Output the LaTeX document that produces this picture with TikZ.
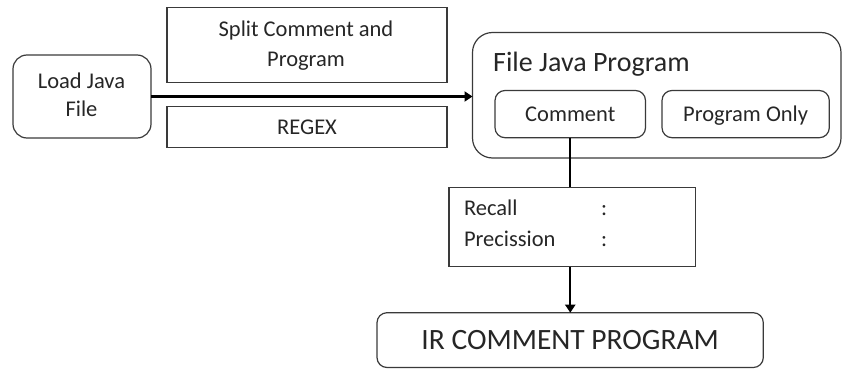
\documentclass[tikz,border=0pt]{standalone}
\usepackage{fontspec}
\setmainfont{Carlito}
\usetikzlibrary{arrows.meta}
\definecolor{bordergray}{HTML}{3A3A3A}
\definecolor{textgray}{HTML}{262626}
\tikzset{
  boxbase/.style={draw=bordergray, line width=1.2pt, inner sep=0pt, outer sep=0pt, align=center, text=textgray, font=\fontsize{22.5}{28}\selectfont},
  sqbox/.style={boxbase},
  rbox/.style={boxbase, rounded corners=#1},
  conn/.style={line width=2.4pt, black},
  arr/.style={conn, -{Triangle[length=8pt,width=10pt]}},
  lbl/.style={inner sep=0pt, outer sep=0pt, text=textgray, font=\fontsize{22.5}{28}\selectfont, anchor=base west},
  ctr/.style={inner sep=0pt, outer sep=0pt, text=textgray, font=\fontsize{22.5}{28}\selectfont, anchor=base}
}
\begin{document}
\begin{tikzpicture}[x=1pt,y=-1pt]
\useasboundingbox (0,0) rectangle (842,369);
% Load Java File
\node[rbox=14pt, minimum width=138pt, minimum height=83pt] (load) at (82,96.5) {};
\node[ctr] (loadA) at (81.5,88.7) {Load Java};
\node[ctr] (loadB) at (81.5,116.7) {File};
% Split Comment and Program
\node[sqbox, minimum width=280pt, minimum height=75pt] (split) at (307,45) {};
\node[ctr] (splitA) at (306,36.7) {Split Comment and};
\node[ctr] (splitB) at (306,66.7) {Program};
% REGEX
\node[sqbox, minimum width=280pt, minimum height=41pt, text height=15pt, text depth=0pt] (regex) at (307,126.7) {REGEX};
% File Java Program container
\node[rbox=20pt, minimum width=368.5pt, minimum height=125.5pt] (big) at (656.75,95.25) {};
\node[inner sep=0pt, anchor=base west, text=textgray, font=\fontsize{28}{32}\selectfont] (title) at (493,71.7) {File Java Program};
% Comment / Program Only
\node[rbox=10pt, minimum width=150.5pt, minimum height=47.2pt, text height=15pt, text depth=1.2pt] (comment) at (570.25,114.1) {Comment};
\node[rbox=10pt, minimum width=167.3pt, minimum height=47.2pt, text height=15pt, text depth=1.2pt] (progonly) at (745.65,114.1) {Program Only};
% Recall / Precission box
\node[sqbox, minimum width=246.7pt, minimum height=79.4pt] (recall) at (572.35,227) {};
\node[lbl] (rtxt) at (464,215.7) {Recall};
\node[lbl] (rcol) at (601,215.7) {:};
\node[lbl] (ptxt) at (464,246.7) {Precission};
\node[lbl] (pcol) at (601,246.7) {:};
% IR COMMENT PROGRAM
\node[rbox=10pt, minimum width=386.3pt, minimum height=54.8pt, text height=19pt, text depth=0pt, font=\fontsize{29.5}{32}\selectfont] (ir) at (570.15,340.1) {IR COMMENT PROGRAM};
% connectors
\draw[arr, line width=2.7pt] (load.east) -- (big.west |- load.east);
\draw[conn] (comment.south) -- (comment.south |- recall.north);
\draw[arr] (recall.south -| comment.south) -- (comment.south |- ir.north);
\end{tikzpicture}
\end{document}
